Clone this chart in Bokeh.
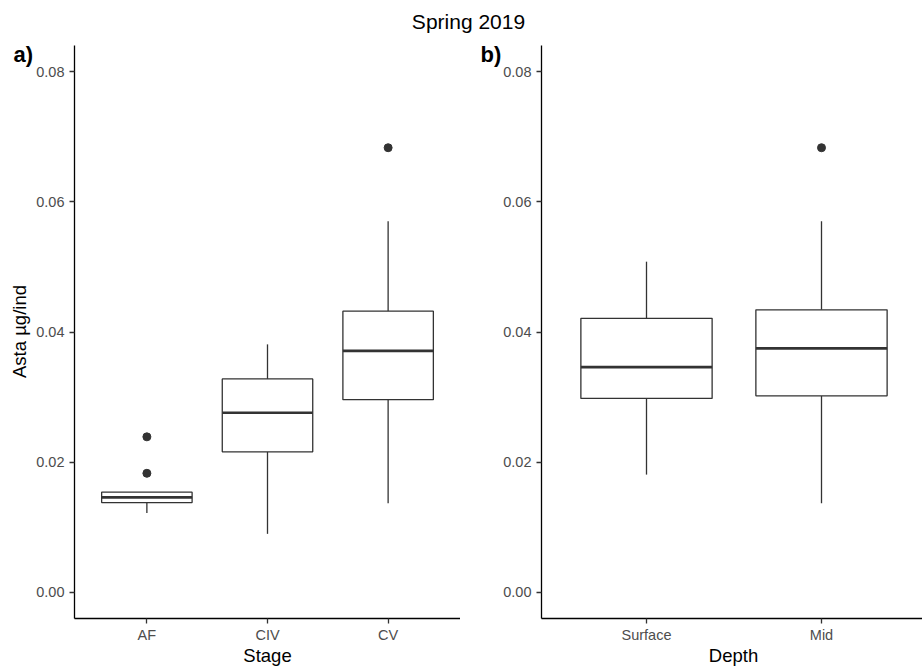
import math

from bokeh.plotting import figure
from bokeh.layouts import column, row
from bokeh.models import (Range1d, FixedTicker, Label, ColumnDataSource,
                          PrintfTickFormatter)
from bokeh.transform import dodge
from bokeh.embed import file_html
from bokeh.resources import INLINE

FONT = "Liberation Sans"
BOX_WIDTH = 0.75
Y_START, Y_END = -0.004, 0.084
PANEL_H = 629            # panel height below the title strip
AXIS_TOP, AXIS_BOTTOM = 5, 578   # pixel rows of Y_END and Y_START in a panel

# Panel a: astaxanthin content by copepod stage
stage_labels = ["AF", "CIV", "CV"]
stage_lower = [0.0122, 0.0090, 0.0137]
stage_q1 = [0.0138, 0.0216, 0.0296]
stage_median = [0.0146, 0.0276, 0.0371]
stage_q3 = [0.0154, 0.0328, 0.0432]
stage_upper = [0.0154, 0.0381, 0.0570]
stage_outlier_group = ["AF", "AF", "CV"]
stage_outlier_value = [0.0239, 0.0183, 0.0683]

# Panel b: astaxanthin content by sampling depth
depth_labels = ["Surface", "Mid"]
depth_lower = [0.0181, 0.0137]
depth_q1 = [0.0298, 0.0302]
depth_median = [0.0346, 0.0375]
depth_q3 = [0.0421, 0.0434]
depth_upper = [0.0508, 0.0570]
depth_outlier_group = ["Mid"]
depth_outlier_value = [0.0683]

y_ticks = [0.00, 0.02, 0.04, 0.06, 0.08]


def make_panel(labels, lower, q1, med, q3, upper, out_g, out_v,
               px_per_unit, width, axis_px, xlabel, xlabel_px, ylabel, tag):
    """Box plot panel. Both axes are pinned inside a full-size frame so the
    margins (tag, axis titles) can be drawn as ordinary labels."""
    pos = list(range(1, len(labels) + 1))
    x_start = 0.4 - axis_px / px_per_unit
    x_end = x_start + width / px_per_unit
    y_per_px = (Y_END - Y_START) / (AXIS_BOTTOM - AXIS_TOP)
    y_top = Y_END + AXIS_TOP * y_per_px
    y_bot = Y_START - (PANEL_H - AXIS_BOTTOM) * y_per_px

    p = figure(width=width, height=PANEL_H, output_backend="svg",
               toolbar_location=None,
               x_range=Range1d(x_start, x_end),
               y_range=Range1d(y_bot, y_top), min_border=0)
    p.outline_line_color = None
    p.grid.visible = False
    p.background_fill_color = "white"
    p.border_fill_color = "white"

    src = ColumnDataSource(dict(x=pos, lower=lower, q1=q1, med=med,
                                q3=q3, upper=upper))
    # whiskers (no caps)
    p.segment(x0="x", x1="x", y0="q3", y1="upper", source=src,
              line_color="#333333", line_width=1.3)
    p.segment(x0="x", x1="x", y0="lower", y1="q1", source=src,
              line_color="#333333", line_width=1.3)
    # boxes
    p.vbar(x="x", width=BOX_WIDTH, bottom="q1", top="q3", source=src,
           fill_color="white", line_color="#333333", line_width=1.3)
    # medians
    p.segment(x0=dodge("x", -BOX_WIDTH / 2), x1=dodge("x", BOX_WIDTH / 2),
              y0="med", y1="med", source=src,
              line_color="#333333", line_width=2.7)
    # outliers
    ox = [labels.index(g) + 1 for g in out_g]
    p.scatter(x=ox, y=out_v, size=8, marker="circle",
              fill_color="#333333", line_color="#333333")

    for ax in (p.xaxis[0], p.yaxis[0]):
        ax.axis_line_color = "black"
        ax.axis_line_width = 1.3
        ax.major_tick_line_color = "#333333"
        ax.major_tick_line_width = 1.3
        ax.major_tick_out = 5
        ax.major_tick_in = 0
        ax.minor_tick_line_color = None
        ax.major_label_text_color = "#4D4D4D"
        ax.major_label_text_font = FONT
        ax.major_label_text_font_size = "14.5px"

    p.xaxis.fixed_location = Y_START
    p.xaxis.bounds = (0.4, x_end)
    p.xaxis.ticker = FixedTicker(ticks=pos)
    p.xaxis.major_label_overrides = {i: s for i, s in zip(pos, labels)}
    p.xaxis.major_label_standoff = 3

    p.yaxis.fixed_location = 0.4
    p.yaxis.bounds = (Y_START, Y_END)
    p.yaxis.ticker = FixedTicker(ticks=y_ticks)
    p.yaxis.formatter = PrintfTickFormatter(format="%.2f")
    p.yaxis.major_label_standoff = 5

    # x axis title
    p.add_layout(Label(x=xlabel_px, y=14.5, x_units="screen", y_units="screen",
                       text=xlabel, text_font=FONT, text_font_size="18.5px",
                       text_color="black", text_align="center",
                       text_baseline="middle"))
    # y axis title
    if ylabel:
        p.add_layout(Label(x=19, y=PANEL_H - 291, x_units="screen",
                           y_units="screen", text=ylabel, angle=math.pi / 2,
                           text_font=FONT, text_font_size="18.5px",
                           text_color="black", text_align="center",
                           text_baseline="middle"))
    # panel tag in the top-left corner
    p.add_layout(Label(x=axis_px - 61, y=PANEL_H - 14.3,
                       x_units="screen", y_units="screen",
                       text=tag, text_font=FONT,
                       text_font_size="22px", text_font_style="bold",
                       text_color="black", text_baseline="middle"))
    return p


pa = make_panel(stage_labels, stage_lower, stage_q1, stage_median, stage_q3,
                stage_upper, stage_outlier_group, stage_outlier_value,
                386 / 3.2, 460, 74, "Stage", 267, "Asta µg/ind", "a)")
pb = make_panel(depth_labels, depth_lower, depth_q1, depth_median, depth_q3,
                depth_upper, depth_outlier_group, depth_outlier_value,
                175, 462, 81, "Depth", 273, None, "b)")

head = figure(width=922, height=40, output_backend="svg",
              toolbar_location=None, x_range=Range1d(0, 922),
              y_range=Range1d(0, 40), min_border=0)
head.axis.visible = False
head.grid.visible = False
head.outline_line_color = None
head.add_layout(Label(x=468, y=19.4, text="Spring 2019", text_font=FONT,
                      text_font_size="21px", text_color="black",
                      text_align="center", text_baseline="middle"))

layout = column(head, row(pa, pb, spacing=0), spacing=0)
open("out.html", "w").write(file_html(layout, INLINE))
